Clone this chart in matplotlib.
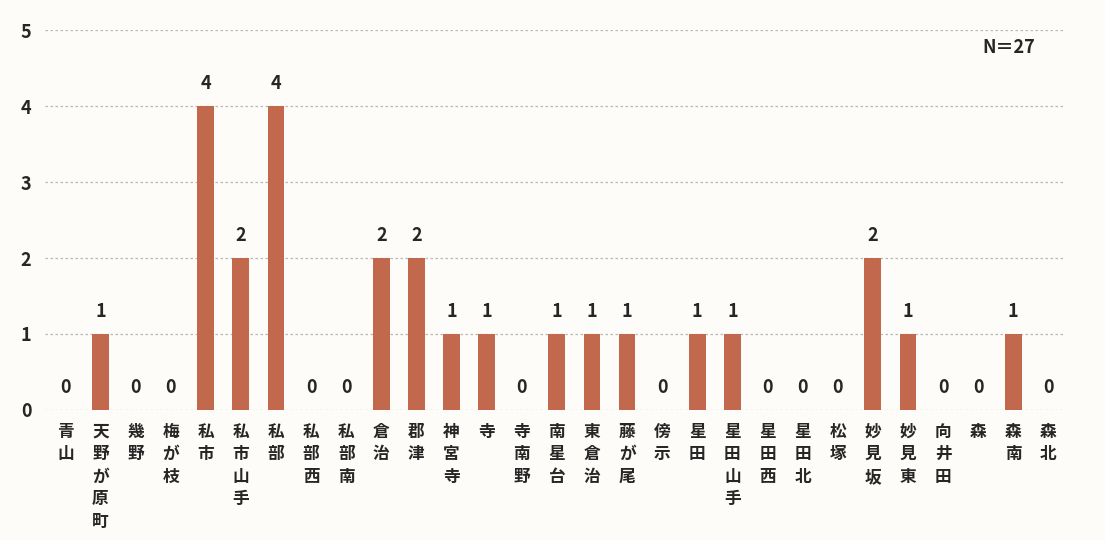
import numpy as np
import matplotlib
import matplotlib.pyplot as plt
matplotlib.use('Agg')

plt.rcParams['font.family'] = ['Noto Sans CJK JP', 'DejaVu Sans']

areas = ['青山', '天野が原町', '幾野', '梅が枝', '私市', '私市山手', '私部', '私部西', '私部南',
         '倉治', '郡津', '神宮寺', '寺', '寺南野', '南星台', '東倉治', '藤が尾', '傍示',
         '星田', '星田山手', '星田西', '星田北', '松塚', '妙見坂', '妙見東', '向井田',
         '森', '森南', '森北']
counts = [0, 1, 0, 0, 4, 2, 4, 0, 0, 2, 2, 1, 1, 0, 1, 1, 1, 0, 1, 1, 0, 0, 0, 2, 1, 0, 0, 1, 0]
y_ticks = [0, 1, 2, 3, 4, 5]
n_label = 'N＝27'

bar_color = '#c2684d'
text_color = '#262626'

fig = plt.figure(figsize=(11.05, 5.4), dpi=100)
fig.patch.set_facecolor('#fdfcf8')
ax = fig.add_axes([0.041, 0.241, 0.923, 0.703])
ax.set_facecolor('none')

x = np.arange(len(areas))
ax.bar(x, counts, width=0.48, color=bar_color, zorder=2)

for xi, v in zip(x, counts):
    ax.text(xi, v + 0.3, str(v), ha='center', va='center', fontsize=13,
            fontweight='bold', color=text_color)

for t in y_ticks:
    ax.axhline(t, color='#b8b8b8', lw=0.9, ls=(0, (2, 2)), zorder=1)

ax.set_xlim(-0.57, 28.48)
ax.set_ylim(0, 5)
ax.set_yticks(y_ticks)
ax.set_yticklabels([str(t) for t in y_ticks], fontsize=13, fontweight='bold', color=text_color)
ax.tick_params(axis='y', length=0, pad=10)
ax.set_xticks([])
for s in ax.spines.values():
    s.set_visible(False)

for xi, name in zip(x, areas):
    ax.text(xi, -0.17, '\n'.join(name), ha='center', va='top', fontsize=12,
            fontweight='bold', color=text_color, linespacing=1.32)

ax.text(0.945, 0.955, n_label, transform=ax.transAxes, ha='center', va='center',
        fontsize=13, fontweight='bold', color=text_color)

fig.savefig('out.png', dpi=100, facecolor=fig.get_facecolor())
